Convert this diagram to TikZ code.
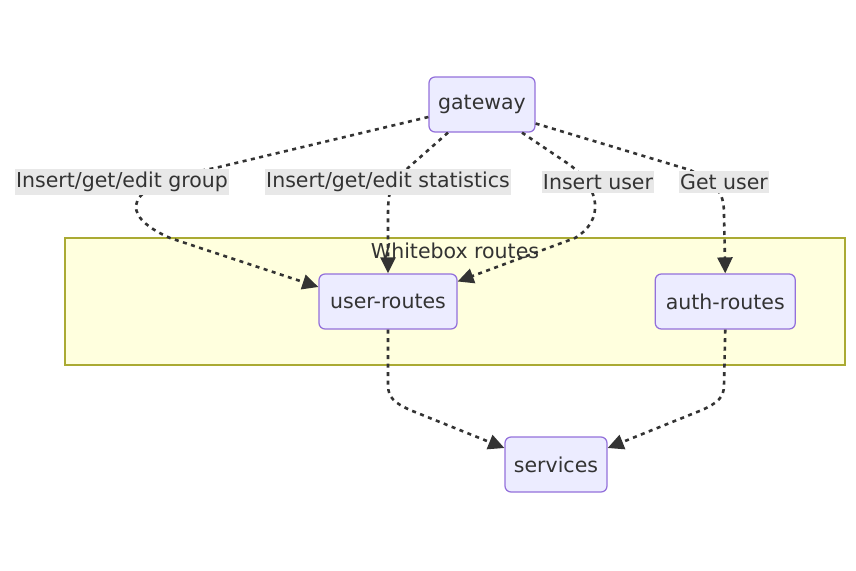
\documentclass[tikz,border=0pt]{standalone}
\usepackage{fontspec}
\setmainfont{DejaVu Sans}
\usetikzlibrary{arrows.meta, positioning}

\definecolor{nodefill}{HTML}{ECECFF}
\definecolor{nodeline}{HTML}{9370DB}
\definecolor{clusterfill}{HTML}{FFFFDE}
\definecolor{clusterline}{HTML}{AAAA33}
\definecolor{edgeline}{HTML}{333333}
\definecolor{labelfill}{HTML}{E8E8E8}

\begin{document}
\begin{tikzpicture}[x=1pt, y=-1pt, font=\fontsize{20.5}{24}\selectfont,
    box/.style={draw=nodeline, line width=1.25pt, fill=nodefill, rounded corners=6pt, minimum height=55pt, inner sep=0pt, text=edgeline},
    flow/.style={draw=edgeline, line width=2.6pt, dash pattern=on 4pt off 4.5pt, -{Triangle[length=16pt, width=15pt]}},
    lbl/.style={fill=labelfill, inner xsep=1pt, inner ysep=3.5pt, text=edgeline}]
    \useasboundingbox (0,0) rectangle (856,570);
    %
    \node [draw=clusterline, line width=1.25pt, fill=clusterfill, minimum width=780pt, minimum height=127pt] (wb) at (455,301.5) {};
    \node [text=edgeline, below=2pt of wb.north] (wbtitle) {Whitebox routes};
    %
    \node [box, minimum width=106pt] (gateway) at (482,104.5) {gateway};
    \node [box, minimum width=138pt] (ur) at (388,301.5) {user-routes};
    \node [box, minimum width=140pt, right=197pt of ur] (ar) {auth-routes};
    \node [box, minimum width=102pt] (sv) at (556,464.5) {services};
    %
    \draw [flow] ([yshift=-12.5pt]gateway.west) -- (215,168) .. controls (120,185) and (118,215) .. (170,238) -- ([yshift=14.5pt]ur.west);
    \draw [flow] ([xshift=-34pt]gateway.south) -- (400,175) .. controls (390,185) and (388,195) .. (388,215) -- (ur.north);
    \draw [flow] ([xshift=40pt]gateway.south) -- (570,165) .. controls (600,188) and (605,220) .. (575,238) -- ([yshift=20pt]ur.east);
    \draw [flow] ([yshift=-19pt]gateway.east) -- (690,170) .. controls (720,185) and (724,195) .. (724,215) -- (ar.north);
    \draw [flow] (ur.south) -- (388,385) .. controls (388,398) and (395,403) .. (410,410) -- ([yshift=16.5pt]sv.west);
    \draw [flow] (ar.south) -- (724,385) .. controls (724,398) and (717,403) .. (702,410) -- ([yshift=16.5pt]sv.east);
    %
    \node [lbl] (lgroup) at (122,182) {Insert/get/edit group};
    \node [lbl] (lstats) at (388,182) {Insert/get/edit statistics};
    \node [lbl] (luser) at (598,182) {Insert user};
    \node [lbl] (lget) at (724,182) {Get user};
\end{tikzpicture}
\end{document}
